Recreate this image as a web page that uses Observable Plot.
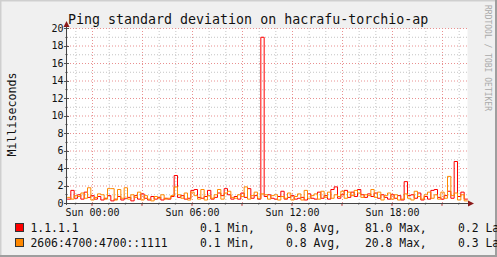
<!DOCTYPE html>
<html><head><meta charset="utf-8">
<script src="https://cdn.jsdelivr.net/npm/d3@7"></script>
<script src="https://cdn.jsdelivr.net/npm/@observablehq/plot@0.6"></script>
<style>html,body{margin:0;padding:0;overflow:hidden;background:#f0f0f0}</style>
</head><body><div id="chart"></div>
<script>
const chartTitle = "Ping standard deviation on hacrafu-torchio-ap";
const yTitle = "Milliseconds";
const watermark = "RRDTOOL / TOBI OETIKER";
const seriesNames = ["1.1.1.1", "2606:4700:4700::1111"];
const seriesColors = ["#ff0000", "#ff8800"];
const statsMin = ["0.1", "0.1"];
const statsAvg = ["0.8", "0.8"];
const statsMax = ["81.0", "20.8"];
const statsLast = ["0.2", "0.3"];
const startHour = -1.5, stepHours = 0.2, endHour = 22.5;
const redValues = [
  0.5,1.5,0.6,1.0,0.5,1.3,0.7,0.9,0.5,0.8,
  0.4,0.6,0.9,0.3,0.5,0.8,0.4,0.6,0.7,0.3,
  0.9,0.5,1.1,0.6,0.4,0.8,0.5,0.7,0.4,0.6,
  0.5,0.8,3.2,0.7,0.9,0.5,0.6,1.5,1.6,0.7,
  0.6,0.8,1.5,0.5,0.7,1.2,0.9,1.7,1.0,0.5,
  0.8,0.5,1.2,0.7,1.7,0.6,0.9,0.5,19.0,0.8,
  1.0,0.6,0.5,0.8,1.4,0.5,0.7,0.9,0.5,0.6,
  0.7,0.4,1.1,0.6,0.5,1.3,0.6,0.9,0.5,1.6,
  1.9,0.6,1.0,1.5,0.7,1.3,0.8,1.6,1.0,0.7,
  1.1,0.8,1.2,0.6,1.0,0.7,0.5,1.0,0.6,0.9,
  0.4,2.5,0.9,1.0,0.6,1.2,0.4,0.8,0.5,1.5,
  1.6,0.7,0.5,0.9,1.4,0.6,4.8,0.8,1.3,0.5
];
const orangeValues = [
  0.7,0.5,0.9,0.8,1.2,0.6,1.8,0.4,0.7,1.1,
  1.0,0.5,1.7,1.7,0.4,1.6,0.6,1.8,0.5,1.0,
  0.7,1.3,0.4,0.9,0.5,0.3,0.8,0.6,1.0,0.5,
  0.6,0.9,1.9,1.0,0.6,1.2,0.4,1.3,0.9,0.5,
  1.6,0.4,0.9,0.6,1.0,1.6,0.5,1.2,1.4,0.7,
  0.6,1.0,0.8,1.9,0.5,0.9,1.3,0.6,1.1,1.0,
  0.5,0.9,1.0,0.4,0.8,0.6,1.2,0.4,0.8,1.1,
  0.4,1.5,0.6,0.9,1.1,0.5,1.4,0.7,1.3,0.6,
  1.0,0.8,1.4,0.6,1.3,0.9,1.5,1.2,0.7,1.0,
  0.9,1.6,0.7,1.3,0.4,0.9,1.2,0.5,1.0,0.4,
  0.5,1.1,0.6,0.4,1.4,0.8,0.5,1.0,1.3,0.6,
  1.0,0.5,1.3,0.6,3.1,0.9,1.2,0.4,1.0,0.3
];
const yTicks = [0,2,4,6,8,10,12,14,16,18,20];
const yMinor = [1,3,5,7,9,11,13,15,17,19];
const xTickHours = [0,6,12,18];
const xTickLabels = ["Sun 00:00","Sun 06:00","Sun 12:00","Sun 18:00"];
const xMajor = [0,3,6,9,12,15,18,21];
const xMinor = d3.range(-1, 23);

function rows(vals) {
  const r = vals.map((v, i) => ({t: startHour + i * stepHours, v}));
  r.push({t: endHour, v: vals[vals.length - 1]});
  return r;
}
const redRows = rows(redValues), orangeRows = rows(orangeValues);

const mono = "DejaVu Sans Mono";
const chart = Plot.plot({
  width: 497, height: 257,
  marginLeft: 67, marginRight: 30, marginTop: 28, marginBottom: 54,
  style: {background: "#f0f0f0", fontFamily: mono, fontSize: "10px", color: "#000", overflow: "hidden"},
  x: {domain: [startHour, endHour], axis: null},
  y: {domain: [0, 20], axis: null},
  marks: [
    Plot.frame({fill: "#ffffff", stroke: null}),
    Plot.ruleY(yMinor, {stroke: "#c4c4c4", strokeDasharray: "1,2"}),
    Plot.ruleX(xMinor, {stroke: "#c4c4c4", strokeDasharray: "1,2"}),
    Plot.ruleY(yTicks.filter(d => d > 0), {stroke: "#e99090", strokeDasharray: "1,2"}),
    Plot.ruleX(xMajor, {stroke: "#e99090", strokeDasharray: "1,2"}),
    Plot.line(redRows, {x: "t", y: "v", curve: "step-after", stroke: seriesColors[0], strokeWidth: 1}),
    Plot.line(orangeRows, {x: "t", y: "v", curve: "step-after", stroke: seriesColors[1], strokeWidth: 1}),
    Plot.text(yTicks, {x: startHour, y: d => d, dx: -4, textAnchor: "end", fill: "#111", fontSize: 10}),
    Plot.text(xTickHours, {x: d => d, y: 0, dy: 9, text: (d, i) => xTickLabels[i], fill: "#111", fontSize: 10})
  ]
});
document.getElementById("chart").appendChild(chart);

const svg = d3.select(chart);
const xs = chart.scale("x"), ys = chart.scale("y");
const X = v => xs.apply(v), Y = v => ys.apply(v);
const x0 = X(startHour), x1 = X(endHour), y0 = Y(0), y1 = Y(20);
const g = svg.append("g").attr("text-anchor", "start");

// outer 3D frame
g.append("line").attr("x1", 0.5).attr("y1", 0).attr("x2", 0.5).attr("y2", 257).attr("stroke", "#cfcfcf").attr("stroke-width", 2);
g.append("line").attr("x1", 0).attr("y1", 0.5).attr("x2", 497).attr("y2", 0.5).attr("stroke", "#cfcfcf").attr("stroke-width", 2);
g.append("line").attr("x1", 496).attr("y1", 0).attr("x2", 496).attr("y2", 257).attr("stroke", "#9e9e9e").attr("stroke-width", 2);
g.append("line").attr("x1", 0).attr("y1", 256).attr("x2", 497).attr("y2", 256).attr("stroke", "#9e9e9e").attr("stroke-width", 2);

// ticks
yTicks.forEach(v => g.append("line").attr("x1", x0 - 3).attr("x2", x0 + 2).attr("y1", Math.round(Y(v)) + 0.5).attr("y2", Math.round(Y(v)) + 0.5).attr("stroke", "#555"));
yMinor.forEach(v => g.append("line").attr("x1", x0 - 2).attr("x2", x0 + 1).attr("y1", Math.round(Y(v)) + 0.5).attr("y2", Math.round(Y(v)) + 0.5).attr("stroke", "#999"));
xMinor.forEach(v => g.append("line").attr("x1", X(v)).attr("x2", X(v)).attr("y1", y0).attr("y2", y0 + 2).attr("stroke", "#999"));
xMajor.forEach(v => g.append("line").attr("x1", X(v)).attr("x2", X(v)).attr("y1", y0).attr("y2", y0 + 3).attr("stroke", "#d05050"));

// axes with arrows
g.append("line").attr("x1", x0 - 0.5).attr("x2", x0 - 0.5).attr("y1", y0 + 2).attr("y2", y1 - 3).attr("stroke", "#444");
g.append("line").attr("x1", x0 - 3).attr("x2", x1 + 2).attr("y1", y0 + 0.5).attr("y2", y0 + 0.5).attr("stroke", "#444");
g.append("path").attr("d", `M${x0 - 3.5},${y1 - 1}L${x0 - 0.5},${y1 - 7}L${x0 + 2.5},${y1 - 1}Z`).attr("fill", "#8b1a1a");
g.append("path").attr("d", `M${x1 + 1},${y0 - 2.5}L${x1 + 7},${y0 + 0.5}L${x1 + 1},${y0 + 3.5}Z`).attr("fill", "#8b1a1a");

// title
g.append("text").attr("x", 68).attr("y", 24).attr("text-anchor", "start").attr("font-family", mono).attr("font-size", 13.3).attr("fill", "#111").text(chartTitle);
// y title
g.append("text").attr("transform", "translate(15.5,114.5) rotate(-90)").attr("text-anchor", "middle")
  .attr("font-family", mono).attr("font-size", 11.6).attr("fill", "#111").text(yTitle);
// watermark
g.append("text").attr("transform", "translate(485,5) rotate(90)").attr("text-anchor", "start")
  .attr("font-family", mono).attr("font-size", 8).attr("fill", "#aaaaaa").text(watermark);

// legend
const rowsY = [232, 247];
seriesNames.forEach((name, i) => {
  const by = rowsY[i];
  g.append("rect").attr("x", 15.5).attr("y", by - 8.5).attr("width", 8).attr("height", 8)
    .attr("fill", seriesColors[i]).attr("stroke", "#333");
  const t = (x, s) => g.append("text").attr("x", x).attr("y", by).attr("text-anchor", "start").attr("font-family", mono)
    .attr("font-size", 11.4).attr("fill", "#111").text(s);
  t(30.5, name);
  t(200, statsMin[i] + " Min,");
  t(286, statsAvg[i] + " Avg,");
  t(365, statsMax[i] + " Max,");
  t(458, statsLast[i] + " Last");
});
</script>
</body></html>
